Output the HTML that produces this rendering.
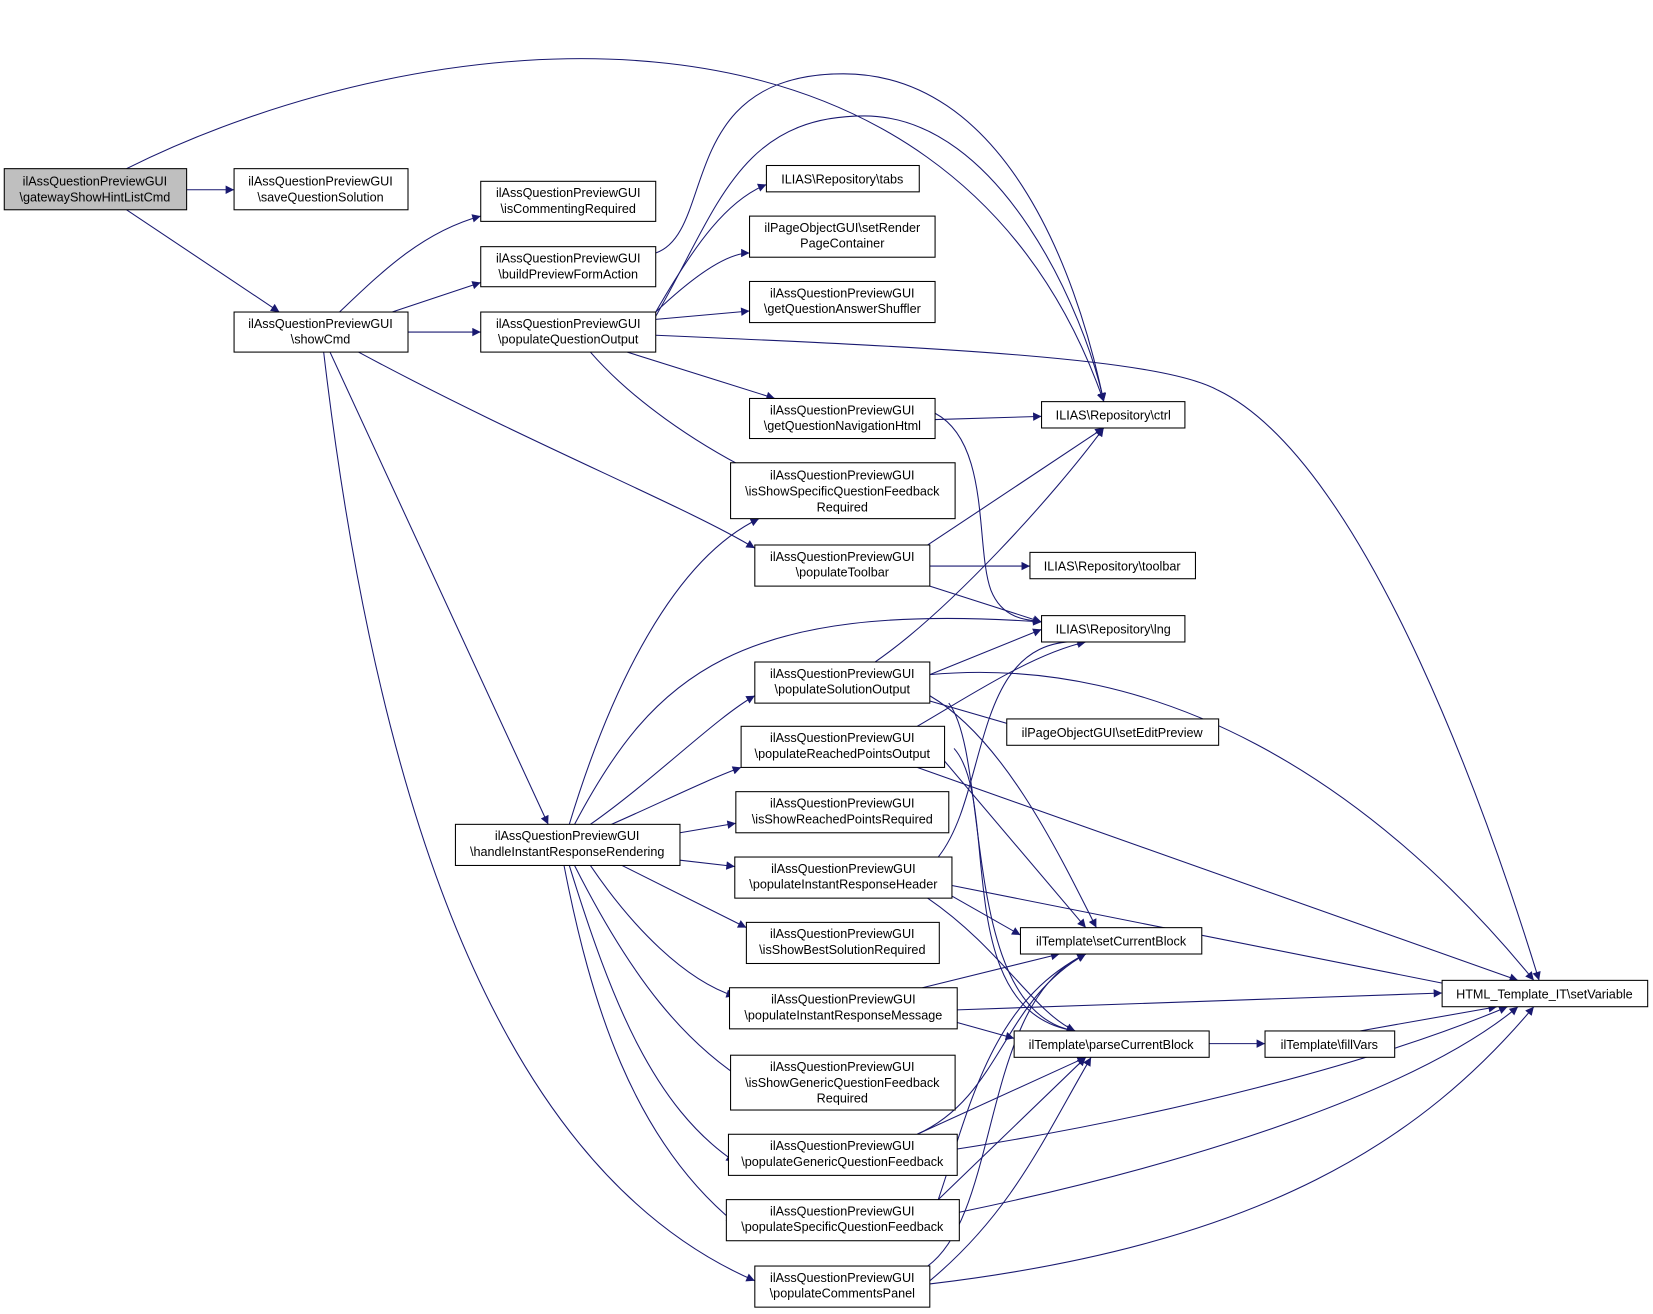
<!DOCTYPE html>
<html><head><meta charset="utf-8"><style>html,body{margin:0;padding:0;background:#fff}svg{display:block}</style></head>
<body>
<svg width="1653" height="1314" viewBox="0 0 1568 1246.5" xmlns="http://www.w3.org/2000/svg" font-family="Liberation Sans, sans-serif" font-size="12">
<defs><marker id="a" viewBox="0 0 10 10" refX="10" refY="5" markerWidth="10" markerHeight="8" markerUnits="userSpaceOnUse" orient="auto"><path d="M0,0L10,5L0,10z" fill="#191970"/></marker></defs>
<g fill="none" stroke="#191970" stroke-width="1" marker-end="url(#a)">
<path d="M177,180L222,180"/>
<path d="M120,199L265,296"/>
<path d="M120,160C400,20 900,-40 1047,381"/>
<path d="M322,296C360,260 400,220 456,205"/>
<path d="M372,296L456,268"/>
<path d="M387,315L456,315"/>
<path d="M340,334C500,420 650,480 716,520"/>
<path d="M313,334L520,782"/>
<path d="M307,334C350,700 450,1100 716,1215"/>
<path d="M622,240C680,220 640,70 800,70C950,70 1020,250 1047,381"/>
<path d="M622,300C680,200 700,110 820,110C950,110 1030,300 1047,381"/>
<path d="M622,296C660,230 690,190 727,175"/>
<path d="M622,296C660,260 690,240 711,240"/>
<path d="M622,303L711,295"/>
<path d="M595,334L735,378"/>
<path d="M560,334C600,380 660,420 711,446"/>
<path d="M622,318C900,330 1100,340 1155,370C1300,440 1420,800 1460,930"/>
<path d="M887,398L988,395"/>
<path d="M887,392C940,420 925,520 940,560C950,585 970,590 1000,590"/>
<path d="M880,517L1047,406"/>
<path d="M882,537L977,537"/>
<path d="M882,556L988,590"/>
<path d="M540,782C580,650 640,530 720,492"/>
<path d="M545,782C620,640 700,570 988,590"/>
<path d="M560,782C620,740 680,680 716,660"/>
<path d="M580,782C630,760 670,740 703,728"/>
<path d="M645,790L698,781"/>
<path d="M645,816L697,822"/>
<path d="M590,821L708,880"/>
<path d="M560,821C600,880 650,930 697,945"/>
<path d="M545,821C600,930 650,990 711,1028"/>
<path d="M540,821C580,950 620,1050 697,1102"/>
<path d="M535,821C560,950 600,1080 697,1160"/>
<path d="M830,628C900,580 1000,470 1047,406"/>
<path d="M882,640L988,597"/>
<path d="M882,665L968,690"/>
<path d="M882,660C950,700 1000,800 1040,880"/>
<path d="M900,667C940,720 910,960 1020,978"/>
<path d="M882,640C1100,620 1300,740 1455,930"/>
<path d="M870,689C920,660 980,620 1030,609"/>
<path d="M896,722L1030,880"/>
<path d="M905,710C950,760 900,960 1020,978"/>
<path d="M870,728L1440,930"/>
<path d="M890,813C940,750 920,600 1030,609"/>
<path d="M903,850L968,887"/>
<path d="M880,852C950,900 980,960 1020,978"/>
<path d="M903,840L1380,935"/>
<path d="M875,937L1005,905"/>
<path d="M908,970L962,985"/>
<path d="M908,958L1368,942"/>
<path d="M1147,990L1200,990"/>
<path d="M1290,978L1420,955"/>
<path d="M870,1076C950,1040 950,950 1030,905"/>
<path d="M870,1076L1030,1003"/>
<path d="M908,1090C1100,1060 1300,1010 1430,955"/>
<path d="M890,1138C920,1050 940,950 1030,905"/>
<path d="M890,1138L1030,1003"/>
<path d="M910,1150C1150,1100 1350,1030 1440,955"/>
<path d="M880,1201C950,1150 930,950 1030,905"/>
<path d="M882,1215C960,1150 990,1080 1035,1003"/>
<path d="M882,1218C1200,1180 1350,1080 1455,955"/>
</g>
<g stroke="#000" stroke-width="1" fill="#fff">
<rect x="4" y="160" width="173" height="39" fill="#bfbfbf"/>
<rect x="222" y="160" width="165" height="39"/>
<rect x="222" y="296" width="165" height="38"/>
<rect x="456" y="172" width="166" height="38"/>
<rect x="456" y="234" width="166" height="38"/>
<rect x="456" y="296" width="166" height="38"/>
<rect x="727" y="157" width="145" height="25"/>
<rect x="711" y="205" width="176" height="39"/>
<rect x="711" y="267" width="176" height="39"/>
<rect x="711" y="378" width="176" height="38"/>
<rect x="988" y="381" width="136" height="25"/>
<rect x="693" y="439" width="213" height="53"/>
<rect x="716" y="517" width="166" height="39"/>
<rect x="977" y="524" width="157" height="25"/>
<rect x="988" y="584" width="136" height="25"/>
<rect x="716" y="628" width="166" height="39"/>
<rect x="955" y="682" width="201" height="25"/>
<rect x="703" y="689" width="193" height="39"/>
<rect x="698" y="751" width="202" height="39"/>
<rect x="432" y="782" width="213" height="39"/>
<rect x="697" y="813" width="206" height="39"/>
<rect x="968" y="880" width="172" height="25"/>
<rect x="708" y="875" width="183" height="39"/>
<rect x="1368" y="930" width="195" height="25"/>
<rect x="692" y="937" width="216" height="39"/>
<rect x="962" y="978" width="185" height="25"/>
<rect x="1200" y="978" width="123" height="25"/>
<rect x="693" y="1001" width="213" height="52"/>
<rect x="691" y="1076" width="217" height="39"/>
<rect x="689" y="1138" width="221" height="39"/>
<rect x="716" y="1201" width="166" height="39"/>
</g>
<g fill="#000" text-anchor="middle">
<text x="90" y="176">ilAssQuestionPreviewGUI</text><text x="90" y="191">\gatewayShowHintListCmd</text>
<text x="304" y="176">ilAssQuestionPreviewGUI</text><text x="304" y="191">\saveQuestionSolution</text>
<text x="304" y="311">ilAssQuestionPreviewGUI</text><text x="304" y="326">\showCmd</text>
<text x="539" y="187">ilAssQuestionPreviewGUI</text><text x="539" y="202">\isCommentingRequired</text>
<text x="539" y="249">ilAssQuestionPreviewGUI</text><text x="539" y="264">\buildPreviewFormAction</text>
<text x="539" y="311">ilAssQuestionPreviewGUI</text><text x="539" y="326">\populateQuestionOutput</text>
<text x="799" y="174">ILIAS\Repository\tabs</text>
<text x="799" y="220">ilPageObjectGUI\setRender</text><text x="799" y="235">PageContainer</text>
<text x="799" y="282">ilAssQuestionPreviewGUI</text><text x="799" y="297">\getQuestionAnswerShuffler</text>
<text x="799" y="393">ilAssQuestionPreviewGUI</text><text x="799" y="408">\getQuestionNavigationHtml</text>
<text x="1056" y="398">ILIAS\Repository\ctrl</text>
<text x="799" y="455">ilAssQuestionPreviewGUI</text><text x="799" y="470">\isShowSpecificQuestionFeedback</text><text x="799" y="485">Required</text>
<text x="799" y="532">ilAssQuestionPreviewGUI</text><text x="799" y="547">\populateToolbar</text>
<text x="1055" y="541">ILIAS\Repository\toolbar</text>
<text x="1056" y="601">ILIAS\Repository\lng</text>
<text x="799" y="643">ilAssQuestionPreviewGUI</text><text x="799" y="658">\populateSolutionOutput</text>
<text x="1055" y="699">ilPageObjectGUI\setEditPreview</text>
<text x="799" y="704">ilAssQuestionPreviewGUI</text><text x="799" y="719">\populateReachedPointsOutput</text>
<text x="799" y="766">ilAssQuestionPreviewGUI</text><text x="799" y="781">\isShowReachedPointsRequired</text>
<text x="538" y="797">ilAssQuestionPreviewGUI</text><text x="538" y="812">\handleInstantResponseRendering</text>
<text x="800" y="828">ilAssQuestionPreviewGUI</text><text x="800" y="843">\populateInstantResponseHeader</text>
<text x="1054" y="897">ilTemplate\setCurrentBlock</text>
<text x="799" y="890">ilAssQuestionPreviewGUI</text><text x="799" y="905">\isShowBestSolutionRequired</text>
<text x="1465" y="947">HTML_Template_IT\setVariable</text>
<text x="800" y="952">ilAssQuestionPreviewGUI</text><text x="800" y="967">\populateInstantResponseMessage</text>
<text x="1054" y="995">ilTemplate\parseCurrentBlock</text>
<text x="1261" y="995">ilTemplate\fillVars</text>
<text x="799" y="1016">ilAssQuestionPreviewGUI</text><text x="799" y="1031">\isShowGenericQuestionFeedback</text><text x="799" y="1046">Required</text>
<text x="799" y="1091">ilAssQuestionPreviewGUI</text><text x="799" y="1106">\populateGenericQuestionFeedback</text>
<text x="799" y="1153">ilAssQuestionPreviewGUI</text><text x="799" y="1168">\populateSpecificQuestionFeedback</text>
<text x="799" y="1216">ilAssQuestionPreviewGUI</text><text x="799" y="1231">\populateCommentsPanel</text>
</g>
</svg>
</body></html>
